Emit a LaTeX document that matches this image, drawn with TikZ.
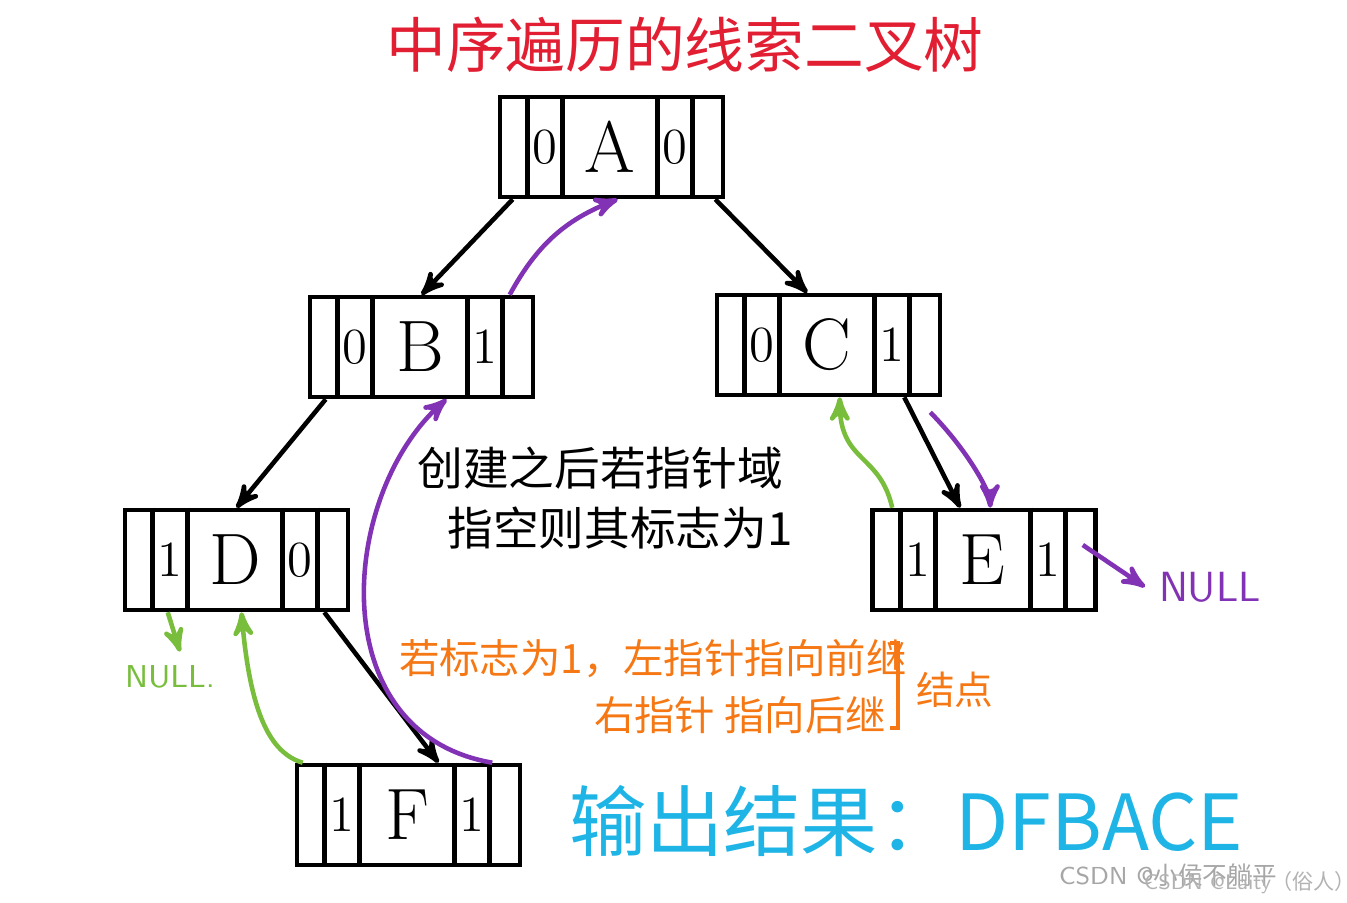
\documentclass[tikz,border=0pt]{standalone}
\usepackage{fontspec}
\newfontfamily\cjk{Noto Sans CJK SC}
\usetikzlibrary{arrows,positioning}
\definecolor{tred}{RGB}{225,30,50}
\definecolor{tpurple}{RGB}{130,50,180}
\definecolor{tgreen}{RGB}{120,190,60}
\definecolor{torange}{RGB}{245,120,20}
\definecolor{tblue}{RGB}{30,180,230}
\tikzset{>=stealth'}
\tikzset{tbox/.style={draw,minimum width=2.23cm,minimum height=1cm,inner sep=0pt}}
\tikzset{fld/.style={font=\Large}}
% threaded node: name, x, y, left flag, data, right flag
\newcommand{\thnode}[6]{%
  \node[tbox] (#1) at (#2,#3) {};
  \foreach \d in {0.30,0.65,1.60,1.95}
    \draw ([xshift=\d cm]#1.north west) -- ([xshift=\d cm]#1.south west);
  \node[fld] at ([xshift=0.475cm]#1.west) {#4};
  \node[fld,font=\huge] at ([xshift=1.125cm]#1.west) {#5};
  \node[fld] at ([xshift=1.775cm]#1.west) {#6};
}
\begin{document}
\begin{tikzpicture}[line width=1.3pt]
\useasboundingbox (0,0) rectangle (13.47,9.03);
\thnode{A}{6.115}{7.56}{0}{A}{0}
\thnode{B}{4.215}{5.56}{0}{B}{1}
\thnode{C}{8.285}{5.58}{0}{C}{1}
\thnode{D}{2.365}{3.43}{1}{D}{0}
\thnode{E}{9.84}{3.43}{1}{E}{1}
\thnode{F}{4.085}{0.88}{1}{F}{1}
\node[tred,font=\cjk\fontsize{17}{20}\selectfont] (title) at (6.85,8.58) {中序遍历的线索二叉树};
% children
\draw[->] ([xshift=0.15cm]A.south west) -- (B.north);
\draw[->] ([xshift=-0.1cm]A.south east) -- ([xshift=-1.35cm]C.north east);
\draw[->] ([xshift=0.18cm]B.south west) -- (D.north);
\draw[->] ([xshift=-0.26cm]D.south east) -- ([xshift=0.3cm]F.north);
\draw[->] ([xshift=-0.38cm]C.south east) -- ([xshift=0.9cm]E.north west);
% threads
\draw[->,tpurple] ([xshift=2.02cm]B.north west) to[bend left=20] ([xshift=1.2cm]A.south west);
\draw[->,tpurple] ([xshift=-0.3cm]F.north east) .. controls (3.2,1.7) and (3.4,4.1) .. ([xshift=0.25cm]B.south);
\draw[->,tgreen] ([xshift=0.08cm]F.north west) .. controls (2.7,1.5) and (2.5,1.9) .. ([xshift=0.05cm]D.south);
\draw[->,tpurple] ([xshift=-0.12cm,yshift=-0.15cm]C.south east) .. controls (9.7,4.5) and (9.9,4.1) .. ([xshift=1.2cm]E.north west);
\draw[->,tgreen] ([xshift=0.22cm]E.north west) .. controls (8.8,4.5) and (8.4,4.4) .. ([xshift=1.25cm]C.south west);
\coordinate (nullE) at (11.45,3.16);
\node[tpurple,font=\sffamily\large,anchor=west] (nE) at (nullE) {NULL};
\draw[->,tpurple] ([xshift=-0.15cm,yshift=0.15cm]E.east) -- (nE.west);
\node[tgreen,font=\sffamily\small] (nD) at (1.7,2.26) {NULL.};
\draw[->,tgreen] ([xshift=0.45cm]D.south west) -- ([xshift=0.1cm]nD.north);
% notes
\node[font=\cjk\fontsize{13}{17}\selectfont,align=left] (note) at (6.05,4.05) {创建之后若指针域\\\hspace*{0.3cm}指空则其标志为1};
\node[torange,font=\cjk\fontsize{11.5}{14}\selectfont,anchor=west] (o1) at (3.85,2.44) {若标志为1，左指针指向前继};
\node[torange,font=\cjk\fontsize{11.5}{14}\selectfont,anchor=west] (o2) at (5.8,1.88) {右指针 指向后继};
\draw[torange] (8.9,2.6) -- (8.98,2.6) -- (8.98,1.75) -- (8.9,1.75);
\node[torange,font=\cjk\fontsize{11}{14}\selectfont,anchor=west] (o3) at (9.02,2.13) {结点};
\node[tblue,font=\cjk\fontsize{22}{26}\selectfont,anchor=west] (out) at (5.55,0.82) {输出结果：DFBACE};
\node[gray!70,font=\sffamily\fontsize{7}{9}\selectfont,anchor=west] (wm1) at (10.45,0.28) {CSDN @\cjk 小侯不躺平};
\node[gray!60,font=\sffamily\fontsize{6}{8}\selectfont,anchor=west] (wm2) at (11.3,0.2) {CSDN @Laity\cjk（俗人）！};
\end{tikzpicture}
\end{document}
